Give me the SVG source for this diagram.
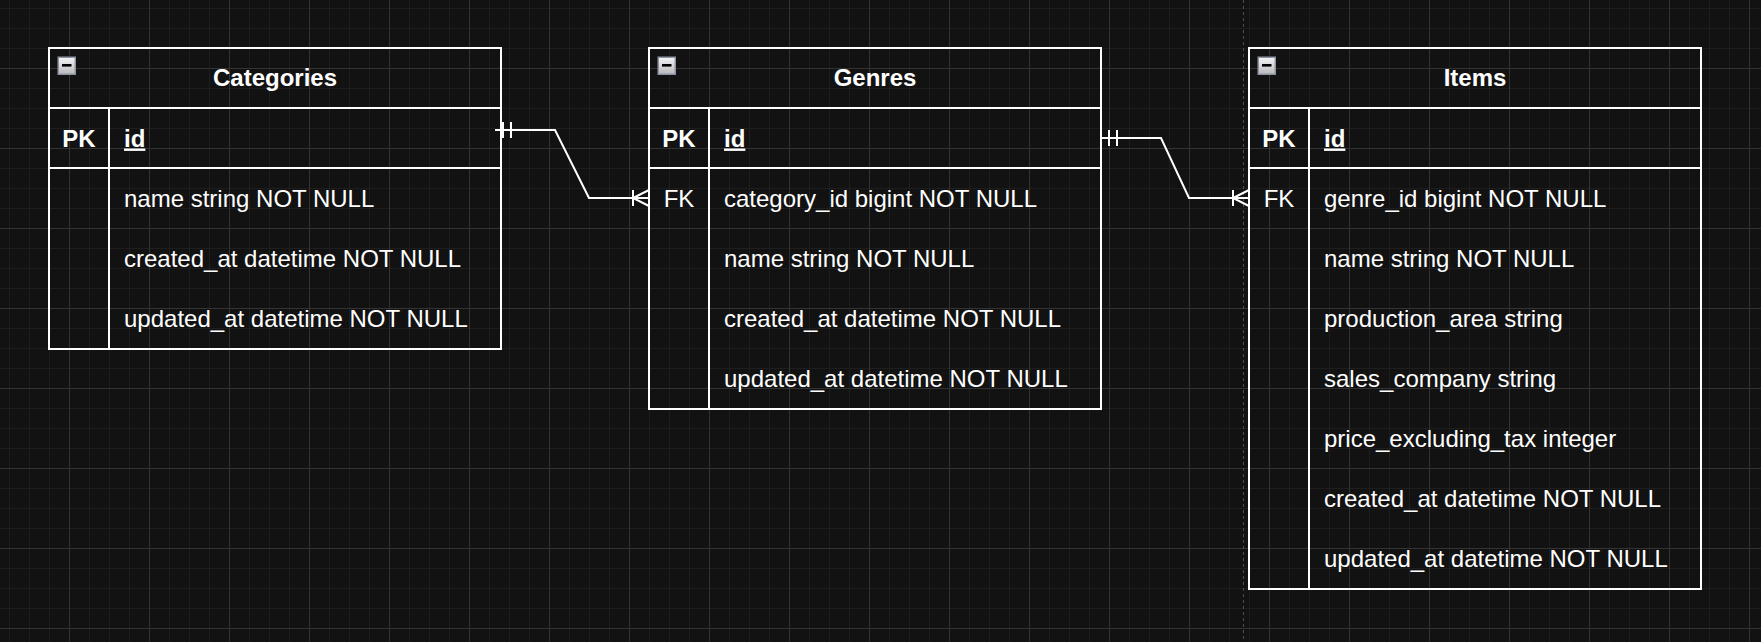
<svg xmlns="http://www.w3.org/2000/svg" xmlns:xlink="http://www.w3.org/1999/xlink" width="1761" height="642" viewBox="0 0 1761 642">
<defs>
<style>
.t{font-family:"Liberation Sans",Arial,Helvetica,sans-serif;font-size:24px;fill:#ffffff}
.b{font-weight:bold}
.c{text-anchor:middle}
.u{text-decoration:underline}
.frame{fill:none;stroke:#ffffff;stroke-width:2}
.ln{stroke:#ffffff;stroke-width:2;fill:none}
.edge{stroke:#ffffff;stroke-width:2;fill:none;stroke-linejoin:miter}
</style>
<pattern id="grid" patternUnits="userSpaceOnUse" x="-11" y="-12" width="80" height="80">
<path d="M20.5 0V80M40.5 0V80M60.5 0V80M0 20.5H80M0 40.5H80M0 60.5H80" stroke="#1e1e1e" stroke-width="1" fill="none"/>
<path d="M0.5 0V80M0 0.5H80" stroke="#333333" stroke-width="1" fill="none"/>
</pattern>
<linearGradient id="ig" x1="0" y1="0" x2="0" y2="1">
<stop offset="0" stop-color="#f4f4f4"/>
<stop offset="1" stop-color="#b9b9bd"/>
</linearGradient>
<g id="icon">
<rect x="0.75" y="0.75" width="17" height="17" fill="url(#ig)" stroke="#8e93a3" stroke-width="1.5"/>
<rect x="4.5" y="7.5" width="9.5" height="2.6" fill="#000000"/>
</g>
</defs>
<rect x="0" y="0" width="1761" height="642" fill="#121212"/>
<rect x="0" y="0" width="1761" height="642" fill="url(#grid)"/>
<line x1="1243.5" y1="0" x2="1243.5" y2="642" stroke="#4d4d4d" stroke-width="1" stroke-dasharray="3 3"/>

<g id="connectors">
<g id="edge-categories-genres">
<path class="edge" d="M495 130H555L589 198H649"/>
<path class="edge" d="M503 122V138M511 122V138"/>
<path class="edge" d="M633 190V206M649 190L633 198L649 206"/>
</g>
<g id="edge-genres-items">
<path class="edge" d="M1101 138H1161L1189 198H1249"/>
<path class="edge" d="M1109 130V146M1117 130V146"/>
<path class="edge" d="M1233 190V206M1249 190L1233 198L1249 206"/>
</g>
</g>

<g id="categories">
<rect class="frame" x="49" y="48" width="452" height="301"/>
<line class="ln" x1="49" y1="108" x2="501" y2="108"/>
<line class="ln" x1="49" y1="168" x2="501" y2="168"/>
<line class="ln" x1="109" y1="108" x2="109" y2="348"/>
<use xlink:href="#icon" x="57.5" y="56.5"/>
<text class="t b c" x="275" y="86">Categories</text>
<text class="t b c" x="79" y="146.5">PK</text>
<text class="t b u" x="124" y="146.5">id</text>
<text class="t" x="124" y="206.5">name string NOT NULL</text>
<text class="t" x="124" y="266.5">created_at datetime NOT NULL</text>
<text class="t" x="124" y="326.5">updated_at datetime NOT NULL</text>
</g>

<g id="genres">
<rect class="frame" x="649" y="48" width="452" height="361"/>
<line class="ln" x1="649" y1="108" x2="1101" y2="108"/>
<line class="ln" x1="649" y1="168" x2="1101" y2="168"/>
<line class="ln" x1="709" y1="108" x2="709" y2="408"/>
<use xlink:href="#icon" x="657.5" y="56.5"/>
<text class="t b c" x="875" y="86">Genres</text>
<text class="t b c" x="679" y="146.5">PK</text>
<text class="t b u" x="724" y="146.5">id</text>
<text class="t c" x="679" y="206.5">FK</text>
<text class="t" x="724" y="206.5">category_id bigint NOT NULL</text>
<text class="t" x="724" y="266.5">name string NOT NULL</text>
<text class="t" x="724" y="326.5">created_at datetime NOT NULL</text>
<text class="t" x="724" y="386.5">updated_at datetime NOT NULL</text>
</g>

<g id="items">
<rect class="frame" x="1249" y="48" width="452" height="541"/>
<line class="ln" x1="1249" y1="108" x2="1701" y2="108"/>
<line class="ln" x1="1249" y1="168" x2="1701" y2="168"/>
<line class="ln" x1="1309" y1="108" x2="1309" y2="588"/>
<use xlink:href="#icon" x="1257.5" y="56.5"/>
<text class="t b c" x="1475" y="86">Items</text>
<text class="t b c" x="1279" y="146.5">PK</text>
<text class="t b u" x="1324" y="146.5">id</text>
<text class="t c" x="1279" y="206.5">FK</text>
<text class="t" x="1324" y="206.5">genre_id bigint NOT NULL</text>
<text class="t" x="1324" y="266.5">name string NOT NULL</text>
<text class="t" x="1324" y="326.5">production_area string</text>
<text class="t" x="1324" y="386.5">sales_company string</text>
<text class="t" x="1324" y="446.5">price_excluding_tax integer</text>
<text class="t" x="1324" y="506.5">created_at datetime NOT NULL</text>
<text class="t" x="1324" y="566.5">updated_at datetime NOT NULL</text>
</g>
</svg>
